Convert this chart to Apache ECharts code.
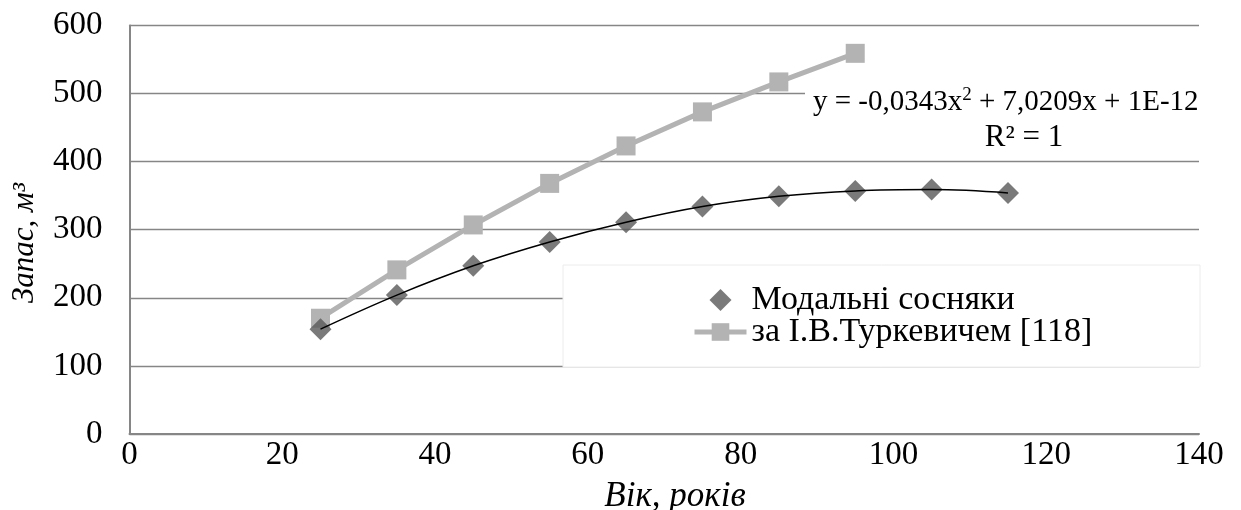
<!DOCTYPE html>
<html>
<head>
<meta charset="utf-8">
<script src="https://cdn.jsdelivr.net/npm/echarts@6/dist/echarts.min.js"></script>
<style>
html,body{margin:0;padding:0;background:#fff;}
#c{width:1241px;height:510px;}
</style>
</head>
<body>
<div id="c"></div>
<script>
// ---- data ----
const ages = [25, 35, 45, 55, 65, 75, 85, 95, 105, 115];
const modalValues = [154, 204, 247, 282, 311, 334, 349, 357, 359, 354];
const turkAges = [25, 35, 45, 55, 65, 75, 85, 95];
const turkValues = [170, 241, 307, 368, 423, 473, 517, 559];
const xTicks = { min: 0, max: 140, interval: 20 };
const yTicks = { min: 0, max: 600, interval: 100 };
const seriesNames = ['Модальні сосняки', 'за І.В.Туркевичем [118]'];
const eqLine1 = 'y = -0,0343x{s|2} + 7,0209x + 1E-12';
const eqLine2 = 'R² = 1';
const xName = 'Вік, років';
const yName = 'Запас, м³';

const modalData = ages.map((a, i) => [a, modalValues[i]]);
const turkData = turkAges.map((a, i) => [a, turkValues[i]]);

const FONT = '"Liberation Serif", "DejaVu Serif", serif';
const AX = '#868686';

const chart = echarts.init(document.getElementById('c'), null, { renderer: 'canvas' });
chart.setOption({
  backgroundColor: '#fff',
  animation: false,
  grid: { left: 129.5, right: 42, top: 25.4, bottom: 76, containLabel: false },
  xAxis: {
    type: 'value', min: xTicks.min, max: xTicks.max, interval: xTicks.interval,
    axisLine: { show: true, lineStyle: { color: AX, width: 2 } },
    axisTick: { show: false },
    splitLine: { show: false },
    axisLabel: { color: '#000', fontFamily: FONT, fontSize: 33, margin: 5 }
  },
  yAxis: {
    type: 'value', min: yTicks.min, max: yTicks.max, interval: yTicks.interval,
    axisLine: { show: true, lineStyle: { color: AX, width: 2 } },
    axisTick: { show: false },
    splitLine: { show: true, lineStyle: { color: AX, width: 1.3 } },
    axisLabel: { color: '#000', fontFamily: FONT, fontSize: 33, margin: 27 }
  },
  legend: {
    orient: 'vertical', left: 687, top: 278, itemGap: -2,
    itemWidth: 52, itemHeight: 22, z: 5, symbolKeepAspect: true,
    textStyle: { color: '#000', fontFamily: FONT, fontSize: 34 },
    data: [
      { name: seriesNames[0], icon: 'path://M10,0 L20,10 L10,20 L0,10 Z' },
      { name: seriesNames[1], lineStyle: { width: 5, color: '#b3b3b3' } }
    ]
  },
  graphic: [
    { type: 'rect', z: 1, shape: { x: 563, y: 265, width: 637, height: 102 },
      style: { fill: '#fff', stroke: '#ececec', lineWidth: 1 } },
    { type: 'rect', z: 1, shape: { x: 805, y: 84, width: 396, height: 70 },
      style: { fill: '#fff' } },
    { type: 'text', z: 6, left: 813, top: 86,
      style: { text: eqLine1, fill: '#000', font: '29px ' + FONT,
        rich: { s: { fontSize: 19, fontFamily: FONT, fill: '#000', verticalAlign: 'top', padding: [0, 0, 13, 0] } } } },
    { type: 'text', z: 6, x: 1024, y: 138,
      style: { text: eqLine2, fill: '#000', font: '31px ' + FONT, align: 'center', verticalAlign: 'middle' } },
    { type: 'text', z: 6, x: 675, y: 497,
      style: { text: xName, fill: '#000', font: 'italic 35px ' + FONT, align: 'center', verticalAlign: 'middle' } },
    { type: 'text', z: 6, x: 25, y: 243, rotation: Math.PI / 2,
      style: { text: yName, fill: '#000', font: 'italic 31px ' + FONT, align: 'center', verticalAlign: 'middle' } }
  ],
  series: [
    {
      name: seriesNames[1], type: 'line', data: turkData, z: 2,
      symbol: 'rect', symbolSize: 19,
      lineStyle: { color: '#b3b3b3', width: 5 },
      itemStyle: { color: '#b3b3b3' }
    },
    {
      name: seriesNames[0], type: 'scatter', data: modalData, z: 3,
      symbol: 'diamond', symbolSize: 22,
      itemStyle: { color: '#595959' }
    },
    {
      name: 'trend', type: 'line', data: modalData, z: 4,
      smooth: 0.4, showSymbol: false, symbol: 'none',
      lineStyle: { color: '#000', width: 1.5 },
      silent: true
    }
  ]
});
</script>
</body>
</html>
